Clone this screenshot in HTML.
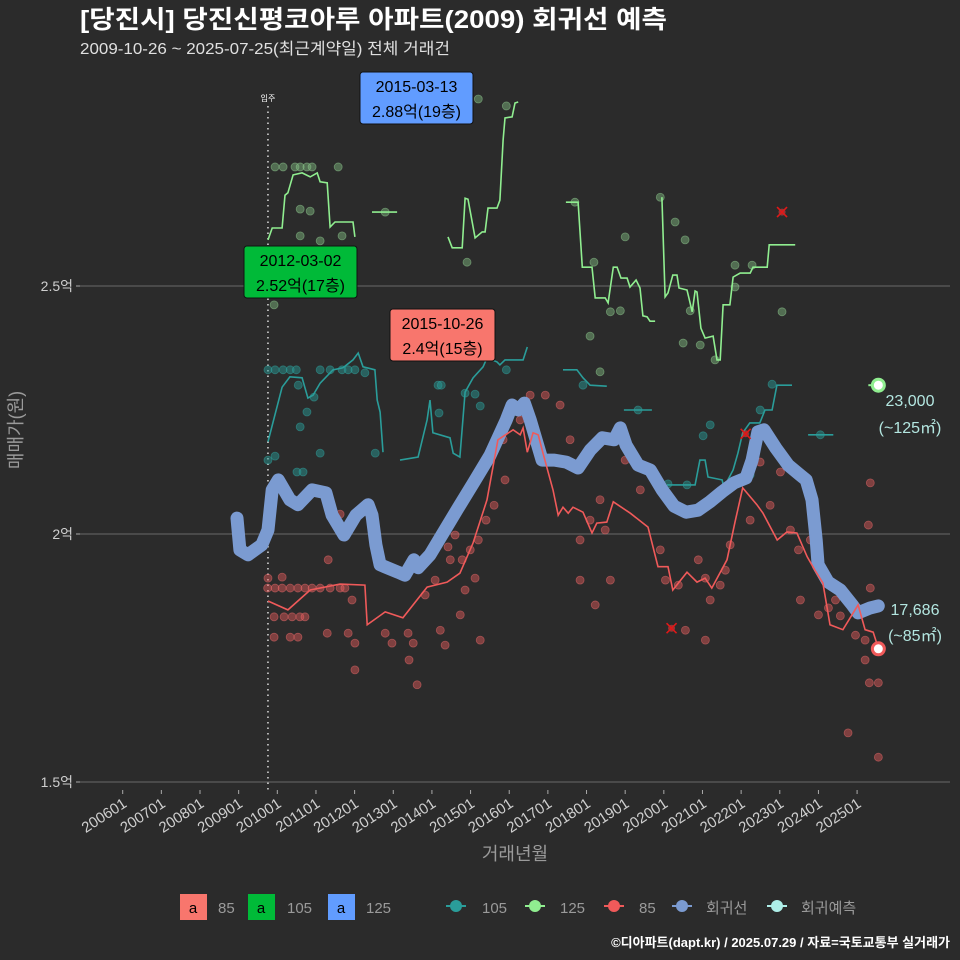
<!DOCTYPE html>
<html><head><meta charset="utf-8">
<style>
html,body{margin:0;padding:0;background:#2b2b2b;}
svg{display:block;font-family:"Liberation Sans","Noto Sans CJK KR",sans-serif;}
</style></head>
<body>
<svg id="chart" width="960" height="960" viewBox="0 0 960 960" xmlns="http://www.w3.org/2000/svg">
<rect x="0" y="0" width="960" height="960" fill="#2b2b2b"/>
<text x="80" y="28" fill="#ffffff" font-size="25" font-weight="bold" textLength="587" lengthAdjust="spacingAndGlyphs">[당진시] 당진신평코아루 아파트(2009) 회귀선 예측</text>
<text x="80" y="54" fill="#e0e0e0" font-size="16" textLength="370" lengthAdjust="spacingAndGlyphs">2009-10-26 ~ 2025-07-25(최근계약일) 전체 거래건</text>
<g id="grid"></g>
<g id="marks"></g>
<g id="axes"></g>
<text x="0" y="0" transform="translate(22,430) rotate(-90)" text-anchor="middle" fill="#9a9a9a" font-size="18">매매가(원)</text>
<text x="515" y="860" text-anchor="middle" fill="#9a9a9a" font-size="18">거래년월</text>
<g>
<rect x="180" y="894" width="27" height="26" fill="#f8766d"/>
<text x="193" y="913" text-anchor="middle" font-size="15" fill="#000">a</text>
<text x="218" y="913" font-size="15" fill="#9a9a9a">85</text>
<rect x="248" y="894" width="27" height="26" fill="#00ba38"/>
<text x="261" y="913" text-anchor="middle" font-size="15" fill="#000">a</text>
<text x="287" y="913" font-size="15" fill="#9a9a9a">105</text>
<rect x="328" y="894" width="27" height="26" fill="#619cff"/>
<text x="341" y="913" text-anchor="middle" font-size="15" fill="#000">a</text>
<text x="366" y="913" font-size="15" fill="#9a9a9a">125</text>
<line x1="446" y1="906" x2="466" y2="906" stroke="#2a9d9a" stroke-width="2"/><circle cx="456" cy="906" r="6" fill="#2a9d9a"/>
<text x="482" y="913" font-size="15" fill="#9a9a9a">105</text>
<line x1="525" y1="906" x2="545" y2="906" stroke="#90ee90" stroke-width="2"/><circle cx="535" cy="906" r="6" fill="#90ee90"/>
<text x="560" y="913" font-size="15" fill="#9a9a9a">125</text>
<line x1="604" y1="906" x2="624" y2="906" stroke="#f05a5a" stroke-width="2"/><circle cx="614" cy="906" r="6" fill="#f05a5a"/>
<text x="639" y="913" font-size="15" fill="#9a9a9a">85</text>
<line x1="672" y1="906" x2="692" y2="906" stroke="#7b9bd1" stroke-width="2"/><circle cx="682" cy="906" r="6" fill="#7b9bd1"/>
<text x="706" y="913" font-size="15" fill="#9a9a9a">회귀선</text>
<line x1="767" y1="906" x2="787" y2="906" stroke="#aeeee8" stroke-width="2"/><circle cx="777" cy="906" r="6" fill="#aeeee8"/>
<text x="801" y="913" font-size="15" fill="#9a9a9a">회귀예측</text>
</g>
<text x="950" y="947" text-anchor="end" font-size="13" font-weight="bold" fill="#ffffff">©디아파트(dapt.kr) / 2025.07.29 / 자료=국토교통부 실거래가</text>
</svg>
<script>
// months since 2006-01, price in 만원
const yTicks = [15000, 20000, 25000];
const yTickLabels = ["1.5억", "2억", "2.5억"];
const xTickMonths = [0,12,24,36,48,60,72,84,96,108,120,132,144,156,168,180,192,204,216,228];
const xTickLabels = ["200601","200701","200801","200901","201001","201101","201201","201301","201401","201501","201601","201701","201801","201901","202001","202101","202201","202301","202401","202501"];

const regM = [35.5,36.4,38.9,43.2,45.1,46.4,48.3,51.9,54.4,58.8,63.1,65.0,68.7,72.4,76.2,77.4,78.6,79.9,85.5,87.6,90.4,91.7,95.4,99.1,104.1,109.1,114.1,119.1,120.9,122.8,124.7,126.5,130.2,134.0,137.7,141.4,145.1,148.9,152.6,154.5,156.3,160.0,163.8,167.5,171.2,174.9,178.6,182.3,186.1,189.8,193.5,195.4,197.2,199.1,202.8,206.6,210.3,212.2,214.0,215.3,215.9,219.0,222.8,226.5,228.3,232.1,234.6];
const regV = [20320,19680,19580,19780,20080,20890,21090,20690,20590,20890,20830,20380,19980,20380,20590,20380,19780,19380,19230,19170,19480,19320,19580,19980,20520,21050,21590,22300,22600,22500,22640,22300,21490,21490,21450,21330,21690,21940,21900,22140,21790,21390,21290,20890,20560,20440,20480,20650,20850,21030,21130,21490,22060,22100,21730,21390,21190,21090,20690,19880,19380,19030,18870,18570,18410,18510,18550];

const l85M = [45.1,51.3,58.2,67.5,75.2,75.9,81.5,87.0,94.5,100.7,104.7,108.8,113.1,116.5,121.2,123.4,124.3,125.6,127.4,129.0,130.5,133.6,135.2,136.7,138.3,139.8,142.9,145.7,147.2,150.3,152.3,157.6,163.1,166.2,169.3,170.8,175.2,178.3,180.8,182.9,187.6,190.1,192.5,196.9,198.8,203.2,206.2,209.3,212.5,214.9,217.4,219.6,223.6,228.3,230.5,233.0,234.6];
const l85V = [18650,18470,18870,18990,18970,18170,18430,18310,18930,19030,19210,19820,20690,21900,22100,22000,22140,21650,22040,22000,21630,20890,20380,20540,20420,20540,20440,20020,20220,20240,20650,20420,20140,19340,19340,18870,19230,19030,19110,18910,19480,20240,20930,20590,20420,19880,20040,20020,19540,19270,19010,18170,18070,18570,18070,18020,17700];

const l105Seg = [
 {m:[45.1,49.5,51.9,55.7,57.5,59.1,61.3,65.3,68.4,71.5,73.1,74.6,78.3,79.0,79.9,80.8], v:[21860,22960,23170,23150,22740,22800,23040,23310,23350,23510,23650,23370,23310,22700,22460,21650]},
 {m:[86.1,91.7,94.5,95.4,96.3,101.6,102.6,104.7,106.3,108.8,111.9,113.1,116.2,117.1,118.7,124.3,125.6], v:[21490,21550,22300,22700,22040,21940,21630,21550,22860,23150,23370,23550,23470,23410,23510,23510,23770]},
 {m:[136.7,141.0,142.9,145.1,150.3], v:[23310,23310,23150,23000,22980]},
 {m:[155.6,164.3], v:[22500,22500]},
 {m:[169.0,177.7,179.2,180.8,181.7,186.1,187.0,187.9,189.5,191.0,192.5,194.7,197.8,199.4,201.6,203.1,207.8], v:[20990,20990,21490,21490,21150,21090,20850,21090,21290,21630,22040,22240,22240,22500,22500,23000,23000]},
 {m:[212.8,220.6], v:[22000,22000]}
];
const l125Seg = [
 {m:[45.1,46.4,49.5,50.4,51.3,52.9,55.7,58.2,60.4,61.3,63.5,64.4,65.9,71.5,72.1], v:[25930,26170,26170,26830,26880,27240,27280,27200,27280,27100,27080,26190,26290,26290,25990]},
 {m:[77.4,85.2], v:[26490,26490]},
 {m:[101.0,102.3,105.4,106.3,107.2,109.4,111.6,112.5,113.4,116.2,117.1,118.1,118.7,120.9,121.8,122.8], v:[25990,25770,25770,26770,26750,25970,26090,26090,26570,26570,26730,27940,28390,28410,28690,28710]},
 {m:[137.6,141.4,142.7,145.7,146.7,149.8,150.7,152.3,153.5,154.7,156.6,157.5,159.4,160.6,161.5,162.8,163.7,165.3], v:[26690,26690,25380,25380,24760,24760,24660,25380,25380,25160,25160,24980,25120,24960,24400,24380,24290,24290]},
 {m:[167.4,168.4,169.3,170.8,172.1,172.7,175.2,176.8,177.7,178.3,179.5,180.8,183.3,184.5,185.5,186.4,188.5,189.5,191.7,194.8,195.7,200.1,200.7,208.8], v:[26790,24780,24860,25220,25220,24960,24920,24480,24900,24880,24150,23950,23990,23510,23510,24620,24620,25180,25260,25260,25380,25380,25830,25830]}
];

const p85M = [45,47.3,49.5,52.0,54.4,56.6,58.8,61.3,64.4,67.5,69.0,47.0,50.1,52.6,55.0,56.6,47.0,52.0,54.4,45.1,49.5,63.8,67.5,71.2,63.5,70.0,72.1,81.5,88.6,83.6,90.2,88.9,72.1,91.4,93.9,101.0,103.2,97.0,101.7,105.4,107.9,110.4,112.8,115.3,118.7,104.8,106.3,109.4,111.0,100.1,98.6,118.1,123.4,126.5,131.2,135.8,138.9,142.0,139.5,145.1,149.8,142.0,146.7,151.4,148.2,156.0,160.7,166.9,168.5,172.5,174.7,178.7,180.9,182.4,185.5,180.9,187.1,188.6,194.8,197.9,201.0,204.2,207.3,209.8,210.4,216.0,219.1,222.8,227.5,230.5,232.1,231.5,232.1,230.5,231.8,234.6,225.2,234.6,221.3,216.6,213.5];
const p85V = [18910,18910,18910,18910,18910,18910,18910,18910,18910,18910,18910,18330,18330,18330,18330,18330,17920,17920,17920,19110,19130,19480,20400,18670,18000,18000,17800,18000,18000,17800,17800,17460,17260,16960,18770,19740,19980,19070,19480,19480,19680,19880,20280,20580,21090,18370,18870,19110,17860,17760,18060,21900,22300,22800,22800,22600,21900,19880,21390,20280,20080,19070,18570,19070,20690,21490,20890,19680,19070,18970,18060,19480,19110,18670,18970,17860,19270,19780,20280,21450,20580,21250,20080,19680,18670,18370,18510,18350,17960,17860,18910,20180,21030,17460,17000,17000,15990,15500,18670,19310,19880];

const p105M = [45.1,47.3,49.8,52.0,53.9,61.3,64.4,68.1,70.0,72.1,75.2,54.5,55.1,54.1,56.0,57.2,59.4,45.1,47.3,61.3,78.4,97.9,98.9,98.2,111.0,109.4,106.3,114.1,119.1,142.9,160.0,169.3,180.2,175.2,182.4,194.8,197.9,201.6,216.6];
const p105V = [23310,23310,23310,23310,23310,23310,23310,23310,23310,23310,23250,23000,22160,21250,21250,22460,22760,21490,21570,21630,21630,23000,23000,22440,22580,22820,22840,23570,23310,23000,22500,21010,21980,20990,22200,21190,22500,23020,22000];

const p125M = [47.3,49.8,53.5,55.1,57.2,58.8,66.9,55.1,58.2,55.1,61.3,68.1,71.5,47.0,81.5,106.9,110.4,119.1,140.4,146.3,156.0,154.5,151.4,145.1,148.2,171.5,174.6,166.9,176.2,174.0,183.9,190.1,190.1,195.4,204.7,179.3];
const p125V = [27400,27400,27400,27400,27400,27400,27400,26550,26510,26010,25910,26010,25220,24620,26490,25480,28770,28630,26690,25480,25990,24500,24480,23990,23270,26290,25930,26790,24500,23850,23510,25420,24980,25420,24480,23810];

const crossM = [204.7, 170.4, 193.4];
const crossV = [26490, 18100, 22020];
const predM = [234.6, 234.6];
const predV = [23000, 17686];
const predLabels = [["23,000","(~125㎡)"],["17,686","(~85㎡)"]];
const moveInM = 45.1;

const X = m => 122.7 + m * 3.221;
const Y = v => 534 - (v - 20000) * 0.0496;
const NS = "http://www.w3.org/2000/svg";
function mk(tag, attrs, parent){ const e=document.createElementNS(NS,tag); for(const k in attrs) e.setAttribute(k,attrs[k]); parent.appendChild(e); return e; }
const grid=document.getElementById('grid'), marks=document.getElementById('marks'), axes=document.getElementById('axes');

yTicks.forEach((t,i)=>{
  const g=mk('line',{x1:80,x2:950,y1:Y(t),y2:Y(t),stroke:'#6a6a6a','stroke-width':1},grid);
  
  
  const tk=mk('line',{x1:76,x2:80,y1:Y(t),y2:Y(t),stroke:'#aaa'},axes);
  
  
  const tx=mk('text',{x:73,y:Y(t)+5,'text-anchor':'end','font-size':14,fill:'#cfcfcf'},axes);
  tx.textContent=yTickLabels[i];
  
  
});
xTickMonths.forEach((m,i)=>{
  const tk=mk('line',{x1:X(m),x2:X(m),y1:790,y2:794,stroke:'#aaa'},axes);
  
  
  const tx=mk('text',{x:0,y:0,transform:`translate(${X(m)+5},${806}) rotate(-33)`,'text-anchor':'end','font-size':15,fill:'#cfcfcf'},axes);
  tx.textContent=xTickLabels[i];
  
  
});

const mv=mk('line',{x1:X(moveInM),x2:X(moveInM),y1:106,y2:790,stroke:'#dddddd','stroke-width':1.5,'stroke-dasharray':'1.5 4'},marks);


const mvt=mk('text',{x:X(moveInM),y:101,'text-anchor':'middle','font-size':8,fill:'#fff'},marks);
mvt.textContent='입주';



function pts(M,V){ return M.map((m,i)=>X(m).toFixed(1)+','+Y(V[i]).toFixed(1)).join(' '); }
function scatter(M,V,fill,stroke,name){
  M.forEach((m,i)=>{
    const c=mk('circle',{cx:X(m),cy:Y(V[i]),r:4,fill:fill,stroke:stroke,'stroke-width':0.8},marks);
    
    
  });
}
scatter(p85M,p85V,'rgba(230,90,90,0.45)','rgba(240,110,110,0.5)','point-85');
scatter(p105M,p105V,'rgba(40,150,145,0.5)','rgba(50,170,165,0.5)','point-105');
scatter(p125M,p125V,'rgba(130,190,130,0.45)','rgba(150,210,150,0.5)','point-125');

l105Seg.forEach(s=>{
  const p=mk('polyline',{points:pts(s.m,s.v),fill:'none',stroke:'#2a9d9a','stroke-width':1.6},marks);
  
  
});
l125Seg.forEach(s=>{
  const p=mk('polyline',{points:pts(s.m,s.v),fill:'none',stroke:'#90ee90','stroke-width':1.6},marks);
  
  
});
const reg=mk('polyline',{points:pts(regM,regV),fill:'none',stroke:'#7b9bd1','stroke-width':13,'stroke-linecap':'round','stroke-linejoin':'round'},marks);


const l85=mk('polyline',{points:pts(l85M,l85V),fill:'none',stroke:'#f05a5a','stroke-width':1.6},marks);



crossM.forEach((m,i)=>{
  const x=X(m),y=Y(crossV[i]);
  const cc=mk('circle',{cx:x,cy:y,r:3.5,fill:'rgba(220,60,60,0.6)'},marks);
  
  
  const c=mk('path',{d:`M${x-5},${y-5}L${x+5},${y+5}M${x+5},${y-5}L${x-5},${y+5}`,stroke:'#e01818','stroke-width':1.6},marks);
  
  
});

const predCol=['#90ee90','#f05a5a'];
predM.forEach((m,i)=>{
  const x=X(m),y=Y(predV[i]);
  if(i===0){ const ln=mk('line',{x1:x-10,x2:x,y1:y,y2:y,stroke:'#90ee90','stroke-width':2},marks);   }
  const c=mk('circle',{cx:x,cy:y,r:6,fill:'#fff',stroke:predCol[i],'stroke-width':3},marks);
  
  
  const t1=mk('text',{x:i===0?910:915,y:i===0?y+21:Y(regV[regV.length-1])+9,'text-anchor':'middle','font-size':16,fill:'#b3e6e0'},marks);
  t1.textContent=predLabels[i][0];
  
  
  const t2=mk('text',{x:i===0?910:915,y:i===0?y+48:Y(regV[regV.length-1])+35,'text-anchor':'middle','font-size':16,fill:'#b3e6e0'},marks);
  t2.textContent=predLabels[i][1];
  
  
});

function box(x,y,w,h,fill,l1,l2,name){
  const r=mk('rect',{x:x,y:y,width:w,height:h,rx:3,fill:fill,stroke:'#111','stroke-width':1},marks);
  
  
  const a=mk('text',{x:x+w/2,y:y+20,'text-anchor':'middle','font-size':16,fill:'#000'},marks);
  a.textContent=l1;
  
  
  const b=mk('text',{x:x+w/2,y:y+45,'text-anchor':'middle','font-size':16,fill:'#000'},marks);
  b.textContent=l2;
  
  
}
box(244,246,113,52,'#00ba38','2012-03-02','2.52억(17층)','max-label-105');
box(360,72,113,52,'#619cff','2015-03-13','2.88억(19층)','max-label-125');
box(390,309,105,52,'#f8766d','2015-10-26','2.4억(15층)','max-label-85');
</script>
</body></html>
